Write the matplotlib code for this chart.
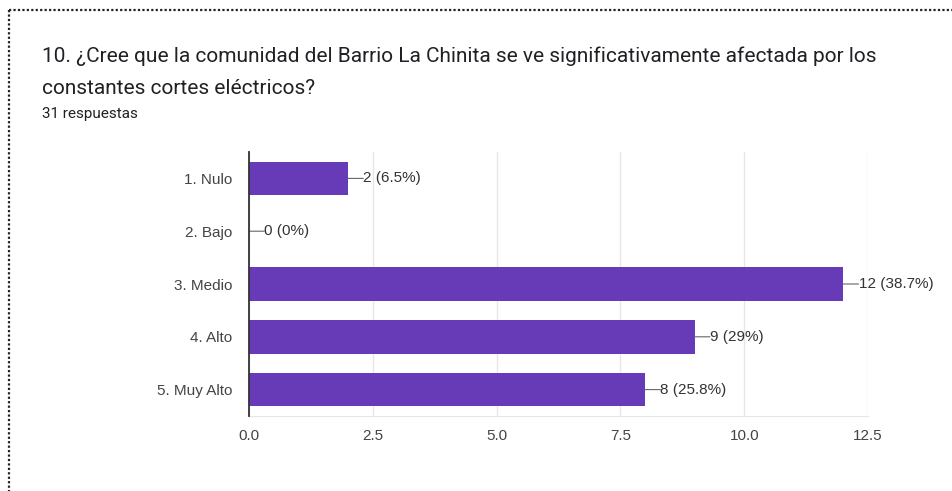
import matplotlib.pyplot as plt
from matplotlib.lines import Line2D

categories = ["1. Nulo", "2. Bajo", "3. Medio", "4. Alto", "5. Muy Alto"]
counts = [2, 0, 12, 9, 8]
labels = ["2 (6.5%)", "0 (0%)", "12 (38.7%)", "9 (29%)", "8 (25.8%)"]
xticks = [0.0, 2.5, 5.0, 7.5, 10.0, 12.5]

plt.rcParams["font.family"] = ["Liberation Sans", "DejaVu Sans"]

W, H = 952, 491
fig = plt.figure(figsize=(W / 100, H / 100), dpi=100)

# dotted frame of the screenshot
fig.add_artist(Line2D([9 / W, 1.0], [1 - 10 / H, 1 - 10 / H], transform=fig.transFigure,
                      color="#222222", linestyle=(0, (1, 1)), linewidth=1.6))
fig.add_artist(Line2D([9 / W, 9 / W], [1 - 10 / H, 0.0], transform=fig.transFigure,
                      color="#222222", linestyle=(0, (1, 1)), linewidth=1.6))

fig.text(42 / W, 1 - 56 / H, "10. ¿Cree que la comunidad del Barrio La Chinita se ve significativamente afectada por los",
         family="Roboto", fontsize=15, color="#202124", va="center")
fig.text(42 / W, 1 - 88 / H, "constantes cortes eléctricos?",
         family="Roboto", fontsize=15, color="#202124", va="center")
fig.text(42 / W, 1 - 114 / H, "31 respuestas", family="Roboto", fontsize=11, color="#202124", va="center")

ax = fig.add_axes([249 / W, 1 - 416 / H, 619 / W, 264 / H])
y = list(range(len(categories)))
ax.barh(y, counts, height=0.64, color="#673AB7", zorder=2)
ax.set_ylim(len(categories) - 0.5, -0.5)
ax.set_xlim(0, 12.5)
ax.set_xticks(xticks)
ax.set_xticklabels([f"{t:.1f}" for t in xticks])
ax.set_yticks(y)
ax.set_yticklabels(categories)
ax.tick_params(axis="both", length=0, labelsize=11, colors="#444444")
ax.tick_params(axis="x", pad=9)
ax.tick_params(axis="y", pad=12)
ax.grid(True, axis="x", color="#e6e6e6", linewidth=1, zorder=0)
for s in ["top", "right"]:
    ax.spines[s].set_visible(False)
ax.spines["bottom"].set_color("#e6e6e6")
ax.spines["left"].set_color("#333333")
ax.spines["left"].set_linewidth(1.3)
ax.spines["left"].set_zorder(3)

for yi, c, lab in zip(y, counts, labels):
    ax.annotate("", xy=(c, yi), xytext=(11, 0), textcoords="offset points",
                arrowprops=dict(arrowstyle="-", color="#666666", lw=0.8, shrinkA=0, shrinkB=0))
    ax.annotate(lab, xy=(c, yi), xytext=(11, 0), textcoords="offset points",
                va="center", ha="left", fontsize=11, color="#333333")

fig.savefig("out.png", dpi=100)
